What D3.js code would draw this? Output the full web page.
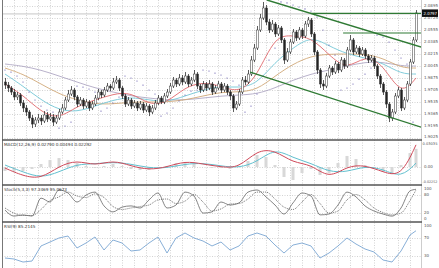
<!DOCTYPE html>
<html>
<head>
<meta charset="utf-8">
<script src="https://cdn.jsdelivr.net/npm/d3@7"></script>
<style>
body{margin:0;background:#fff;}
svg{display:block;font-family:"DejaVu Sans",sans-serif;}
</style>
</head>
<body>
<script>
// price candles, one per bar (open = previous close)
var firstOpen = 1.9819;
var closes = [1.9776,1.9734,1.9677,1.9607,1.9635,1.9522,1.9451,1.9394,1.9309,1.9224,
 1.9281,1.9309,1.9267,1.9352,1.9295,1.9323,1.9252,1.9309,1.9394,1.9451,
 1.9564,1.9649,1.9706,1.9607,1.9507,1.9564,1.9479,1.9536,1.9451,1.9507,
 1.9592,1.9677,1.9635,1.9706,1.9762,1.9734,1.9819,1.9847,1.9734,1.9621,
 1.9507,1.9564,1.9479,1.9522,1.9451,1.9507,1.9422,1.9479,1.9394,1.9451,
 1.9522,1.9592,1.9536,1.9621,1.9677,1.9762,1.9847,1.9791,1.9876,1.9819,
 1.9904,1.9791,1.9847,1.9932,1.9762,1.9706,1.9791,1.9734,1.9791,1.9677,
 1.9734,1.9791,1.9706,1.9762,1.9677,1.9621,1.9451,1.9507,1.9677,1.9847,
 1.9819,1.9932,2.0130,2.0300,2.0555,2.0725,2.0867,2.0668,2.0555,2.0640,
 2.0499,2.0584,2.0414,2.0130,2.0244,2.0385,2.0527,2.0442,2.0555,2.0470,
 2.0640,2.0697,2.0499,2.0244,1.9989,1.9791,1.9762,1.9904,2.0017,1.9960,
 2.0074,1.9989,2.0130,2.0045,2.0272,2.0414,2.0244,2.0300,2.0215,2.0272,
 2.0187,2.0130,2.0159,2.0045,1.9904,1.9791,1.9677,1.9507,1.9309,1.9394,
 1.9621,1.9706,1.9451,1.9564,1.9791,2.0102,2.0414,2.0797];
var highs = [1.9876,1.9819,1.9762,1.9720,1.9677,1.9663,1.9564,1.9493,1.9422,1.9352,
 1.9323,1.9366,1.9352,1.9408,1.9394,1.9380,1.9366,1.9352,1.9437,1.9507,
 1.9607,1.9706,1.9762,1.9734,1.9635,1.9607,1.9592,1.9578,1.9564,1.9550,
 1.9635,1.9720,1.9706,1.9748,1.9805,1.9791,1.9876,1.9904,1.9876,1.9762,
 1.9649,1.9607,1.9592,1.9564,1.9550,1.9550,1.9536,1.9522,1.9507,1.9493,
 1.9564,1.9635,1.9621,1.9663,1.9720,1.9805,1.9890,1.9876,1.9932,1.9918,
 1.9960,1.9932,1.9890,1.9989,1.9960,1.9791,1.9833,1.9819,1.9847,1.9819,
 1.9776,1.9833,1.9819,1.9805,1.9791,1.9706,1.9649,1.9550,1.9720,1.9890,
 1.9904,1.9989,2.0187,2.0357,2.0612,2.0782,2.0952,2.0909,2.0711,2.0697,
 2.0668,2.0626,2.0612,2.0442,2.0300,2.0428,2.0569,2.0555,2.0598,2.0584,
 2.0683,2.0739,2.0725,2.0527,2.0272,2.0017,1.9847,1.9946,2.0060,2.0045,
 2.0116,2.0102,2.0173,2.0159,2.0314,2.0484,2.0442,2.0343,2.0329,2.0314,
 2.0300,2.0215,2.0201,2.0187,2.0074,1.9932,1.9819,1.9706,1.9536,1.9437,
 1.9663,1.9748,1.9734,1.9607,1.9833,2.0145,2.0456,2.0838];
var lows = [1.9720,1.9677,1.9635,1.9564,1.9564,1.9479,1.9394,1.9337,1.9267,1.9167,
 1.9182,1.9238,1.9210,1.9238,1.9252,1.9267,1.9196,1.9224,1.9281,1.9366,
 1.9422,1.9536,1.9621,1.9564,1.9465,1.9479,1.9437,1.9451,1.9408,1.9422,
 1.9479,1.9564,1.9592,1.9607,1.9677,1.9691,1.9706,1.9791,1.9691,1.9578,
 1.9465,1.9479,1.9437,1.9451,1.9408,1.9422,1.9380,1.9394,1.9337,1.9366,
 1.9422,1.9493,1.9507,1.9507,1.9592,1.9649,1.9734,1.9748,1.9762,1.9776,
 1.9791,1.9748,1.9762,1.9819,1.9720,1.9663,1.9677,1.9691,1.9706,1.9635,
 1.9649,1.9706,1.9663,1.9677,1.9635,1.9564,1.9394,1.9422,1.9479,1.9649,
 1.9776,1.9791,1.9904,2.0102,2.0272,2.0527,2.0697,2.0626,2.0513,2.0527,
 2.0456,2.0470,2.0371,2.0074,2.0102,2.0215,2.0357,2.0399,2.0414,2.0428,
 2.0442,2.0598,2.0456,2.0201,1.9932,1.9734,1.9706,1.9734,1.9876,1.9918,
 1.9932,1.9946,1.9960,2.0003,2.0017,2.0244,2.0201,2.0215,2.0173,2.0187,
 2.0145,2.0088,2.0102,2.0003,1.9861,1.9734,1.9635,1.9451,1.9252,1.9267,
 1.9366,1.9592,1.9408,1.9422,1.9536,1.9762,2.0074,2.0385];

// moving averages, sampled every 6 bars
var maIdx = [0,6,12,18,24,30,36,42,48,54,60,66,72,78,84,90,96,102,108,114,120,126,132,137];
var maFast = [1.9791,1.9635,1.9394,1.9295,1.9479,1.9564,1.9649,1.9677,1.9493,1.9522,1.9748,1.9819,1.9762,1.9663,1.9890,2.0484,2.0470,2.0456,2.0201,1.9989,2.0201,2.0074,1.9621,1.9876];
var maMid = [1.9932,1.9762,1.9564,1.9422,1.9394,1.9479,1.9564,1.9607,1.9564,1.9536,1.9621,1.9706,1.9762,1.9734,1.9791,2.0102,2.0300,2.0470,2.0329,2.0215,2.0159,2.0088,1.9932,1.9932];
var maSlow = [2.0017,1.9932,1.9791,1.9649,1.9564,1.9507,1.9507,1.9536,1.9536,1.9536,1.9564,1.9621,1.9677,1.9677,1.9706,1.9904,2.0074,2.0187,2.0215,2.0215,2.0215,2.0159,2.0017,2.0017];
var maLong = [2.0074,2.0045,1.9989,1.9904,1.9819,1.9734,1.9677,1.9621,1.9592,1.9564,1.9564,1.9592,1.9621,1.9635,1.9649,1.9734,1.9847,1.9932,1.9989,2.0045,2.0102,2.0102,2.0045,2.0045];

// parabolic SAR, every second bar
var sar = [1.9989,1.9960,1.9904,1.9819,1.9677,1.9564,1.9479,1.9422,1.9394,1.9167,
 1.9196,1.9252,1.9762,1.9748,1.9720,1.9677,1.9408,1.9451,1.9522,1.9607,
 1.9904,1.9876,1.9833,1.9776,1.9706,1.9649,1.9337,1.9380,1.9451,1.9550,
 1.9635,1.9691,1.9706,1.9989,1.9975,1.9946,1.9918,1.9876,1.9833,1.9776,
 1.9394,1.9479,1.9649,1.9904,2.0130,2.0300,2.0952,2.0938,2.0909,2.0881,
 2.0853,2.0824,2.0739,2.0555,2.0343,2.0201,1.9706,1.9734,1.9791,1.9861,
 1.9932,2.0017,2.0484,2.0456,2.0385,2.0272,2.0159,2.0074,1.9252];

// trend lines drawn on the chart: [bar, price]
var channelTop = [[87.3,2.0980],[138.7,2.0314]];
var channelBottom = [[81.7,1.9960],[138.7,1.9180]];
var levelHigh = [[101.7,2.0790],[138.7,2.0790]];
var levelMid = [[112.7,2.0513],[138.7,2.0513]];
var lastPrice = 2.0797;

// MACD(12,26,9)
var macdLine = [-0.0013,-0.0113,-0.0151,0.0013,0.0088,0.0013,0.0088,0.0013,-0.0038,0.0000,0.0076,0.0038,0.0000,-0.0013,0.0214,0.0214,0.0050,0.0038,-0.0151,0.0013,0.0025,-0.0063,-0.0126,0.0279];
var macdSignal = [0.0025,-0.0063,-0.0139,-0.0063,0.0038,0.0038,0.0063,0.0038,-0.0013,-0.0013,0.0038,0.0050,0.0013,-0.0013,0.0063,0.0239,0.0113,0.0050,-0.0063,-0.0063,0.0013,-0.0025,-0.0139,0.0049];

// oscillators, sampled every 3 bars
var oscIdx = [0,3,6,9,12,15,18,21,24,27,30,33,36,39,42,45,48,51,54,57,60,63,66,69,72,75,78,81,84,87,90,93,96,99,102,105,108,111,114,117,120,123,126,129,132,135,137];
var macdHist = [-0.0050,-0.0063,-0.0050,-0.0025,0.0038,0.0088,0.0113,0.0088,0.0050,0.0013,
 -0.0013,0.0013,0.0038,0.0013,-0.0025,-0.0038,-0.0038,-0.0013,0.0013,0.0050,
 0.0063,0.0038,0,-0.0013,-0.0013,-0.0025,0.0013,0.0076,0.0151,0.0126,
 0.0025,-0.0126,-0.0164,-0.0076,-0.0025,-0.0101,-0.0076,0.0050,0.0139,0.0101,
 0.0025,-0.0025,-0.0063,-0.0076,0.0025,0.0176,0.0229];
var stochK = [28,8,12,8,68,55,95,85,55,78,88,42,22,38,42,35,62,85,35,45,88,75,18,22,55,45,52,88,95,72,45,15,52,85,75,12,15,45,88,72,42,25,15,8,35,92,97.3];
var stochD = [35,18,10,10,30,60,72,88,75,70,82,70,40,30,35,40,45,62,65,50,58,80,55,25,32,48,50,65,88,88,65,38,30,55,80,50,18,25,62,80,62,35,20,12,18,60,95.1];
var rsi = [25.6,23.4,16.8,19.0,51.9,60.6,69.4,73.7,47.5,58.4,71.6,43.1,65.0,58.4,40.9,43.1,58.4,71.6,36.5,69.4,80.3,69.4,62.8,51.9,60.6,43.1,51.9,73.7,80.3,73.7,54.0,36.5,54.0,58.4,51.9,25.6,36.5,51.9,69.4,56.2,45.3,38.7,21.2,16.8,40.9,75.9,85.2];

// axis labels
var priceTicks = [2.0895,2.0725,2.0555,2.0385,2.0215,2.0045,1.9875,1.9705,1.9535,1.9365,1.9195,1.9025];
var macdTicks = [0.03035,0,-0.02252];
var macdTickText = ["0.03035","0.00","-0.02252"];
var stochTicks = [100,80,20,0];
var rsiTicks = [100,70,30];

var W = 439, H = 268, right = 421;

var svg = d3.select("body").append("svg")
  .attr("width", W).attr("height", H);

var x = d3.scaleLinear().domain([0,137]).range([5,416]);
var y = d3.scaleLinear().domain([1.9025,2.0895]).range([138.1,6]);
var yMacd = d3.scaleLinear().domain([-0.02252,0.03035]).range([184.9,142.9]);
var yStoch = d3.scaleLinear().domain([0,100]).range([218.5,188.5]);
var yRsi = d3.scaleLinear().domain([0,100]).range([269.7,224]);

//Clip areas for the four panels
var panels = [["cMain",0,139],["cMacd",141,184],["cStoch",186,221],["cRsi",223,268]];
var defs = svg.append("defs");
panels.forEach(function(p){
  defs.append("clipPath").attr("id",p[0]).append("rect")
    .attr("x",2.5).attr("y",p[1]).attr("width",right-2.5).attr("height",p[2]-p[1]);
});

//Vertical grid
var gridIdx = d3.range(3,140,4).filter(function(i){ return x(i) < right-2; });
svg.append("g").selectAll("line").data(gridIdx).enter().append("line")
  .attr("x1",function(d){return Math.round(x(d))+0.5;})
  .attr("x2",function(d){return Math.round(x(d))+0.5;})
  .attr("y1",0).attr("y2",H)
  .attr("stroke","#c8c8c8").attr("stroke-width",0.8).attr("stroke-dasharray","1,1.5");

//Horizontal grids
function hgrid(vals, scale){
  svg.append("g").selectAll("line").data(vals).enter().append("line")
    .attr("x1",2).attr("x2",right)
    .attr("y1",function(d){return Math.round(scale(d))+0.5;})
    .attr("y2",function(d){return Math.round(scale(d))+0.5;})
    .attr("stroke","#c8c8c8").attr("stroke-width",0.8).attr("stroke-dasharray","1,1.5");
}
hgrid(priceTicks, y);
hgrid([0], yMacd);
hgrid([80,20], yStoch);
hgrid([70,30], yRsi);

//Current price line
svg.append("line").attr("x1",2).attr("x2",right)
  .attr("y1",y(lastPrice)+1).attr("y2",y(lastPrice)+1)
  .attr("stroke","#b8b8b8").attr("stroke-width",0.8);

var main = svg.append("g").attr("clip-path","url(#cMain)");

//Moving averages
function maLine(vals, color){
  var pts = maIdx.map(function(d,i){ return [d, vals[i]]; });
  main.append("path").datum(pts)
    .attr("fill","none").attr("stroke",color).attr("stroke-width",0.9)
    .attr("d", d3.line().x(function(d){return x(d[0]);}).y(function(d){return y(d[1]);}).curve(d3.curveBasis));
}
maLine(maLong, "#b0a8c4");
maLine(maSlow, "#d0a878");
maLine(maMid, "#74c6d6");
maLine(maFast, "#e0686c");

//Candles
var candles = closes.map(function(c,i){
  return {i:i, o: i==0 ? firstOpen : closes[i-1], c:c, h:highs[i], l:lows[i]};
});
var cg = main.append("g");
cg.selectAll(".wick").data(candles).enter().append("line")
  .attr("class","wick")
  .attr("x1",function(d){return Math.round(x(d.i))+0.5;})
  .attr("x2",function(d){return Math.round(x(d.i))+0.5;})
  .attr("y1",function(d){return y(d.h);})
  .attr("y2",function(d){return y(d.l);})
  .attr("stroke","#333").attr("stroke-width",0.8);
cg.selectAll(".body").data(candles).enter().append("rect")
  .attr("class","body")
  .attr("x",function(d){return Math.round(x(d.i))-0.5;})
  .attr("width",2)
  .attr("y",function(d){return y(Math.max(d.o,d.c));})
  .attr("height",function(d){return Math.max(1, Math.abs(y(d.o)-y(d.c)));})
  .attr("fill",function(d){return d.c>=d.o ? "#fff" : "#222";})
  .attr("stroke","#333").attr("stroke-width",0.5);

//Parabolic SAR dots
var sarIdx = d3.range(0,137,2);
main.append("g").selectAll("circle").data(sar).enter().append("circle")
  .attr("cx",function(d,i){return x(sarIdx[i]);})
  .attr("cy",function(d){return y(d);})
  .attr("r",0.6).attr("fill","#5a4fa8");

//Channel and levels
function trend(pts, w){
  main.append("path").datum(pts)
    .attr("fill","none").attr("stroke","#2f7a34").attr("stroke-width",w)
    .attr("d", d3.line().x(function(d){return x(d[0]);}).y(function(d){return y(d[1]);}));
}
trend(channelTop,1.4);
trend(channelBottom,1.4);
trend(levelHigh,1.2);
trend(levelMid,1.2);

//MACD panel
var mg = svg.append("g").attr("clip-path","url(#cMacd)");
mg.selectAll("rect").data(macdHist).enter().append("rect")
  .attr("x",function(d,i){return x(oscIdx[i])-1.5;})
  .attr("width",3)
  .attr("y",function(d){return Math.min(yMacd(d),yMacd(0));})
  .attr("height",function(d){return Math.abs(yMacd(d)-yMacd(0));})
  .attr("fill","#d8d8d8");
function sub(g, idx, vals, scale, color, w, dash, curve){
  var pts = idx.map(function(d,i){ return [d, vals[i]]; });
  g.append("path").datum(pts)
    .attr("fill","none").attr("stroke",color).attr("stroke-width",w)
    .attr("stroke-dasharray",dash)
    .attr("d", d3.line().x(function(d){return x(d[0]);}).y(function(d){return scale(d[1]);}).curve(curve));
}
sub(mg, maIdx, macdSignal, yMacd, "#62c0cf", 1, null, d3.curveBasis);
sub(mg, maIdx, macdLine, yMacd, "#d04a5a", 1, null, d3.curveBasis);

//Stochastic panel
var sg = svg.append("g").attr("clip-path","url(#cStoch)");
sub(sg, oscIdx, stochD, yStoch, "#555", 0.8, "1,1", d3.curveMonotoneX);
sub(sg, oscIdx, stochK, yStoch, "#666", 0.8, null, d3.curveMonotoneX);

//RSI panel
var rg = svg.append("g").attr("clip-path","url(#cRsi)");
sub(rg, oscIdx, rsi, yRsi, "#7aa6d2", 0.9, null, d3.curveLinear);

//Panel borders
svg.append("line").attr("x1",2.5).attr("x2",2.5).attr("y1",0).attr("y2",H)
  .attr("stroke","#777").attr("stroke-width",1);
svg.append("line").attr("x1",right+0.5).attr("x2",right+0.5).attr("y1",0).attr("y2",H)
  .attr("stroke","#c0c0c0").attr("stroke-width",0.8);
[140,185,222].forEach(function(v){
  svg.append("line").attr("x1",2).attr("x2",right+1).attr("y1",v).attr("y2",v)
    .attr("stroke","#555").attr("stroke-width",1.6);
});

//Right axis labels (long ones get a smaller font to fit the margin)
function labels(vals, scale, fmt, lo, hi){
  svg.append("g").selectAll("text").data(vals).enter().append("text")
    .attr("x",424).attr("y",function(d){return Math.max(lo, Math.min(hi, scale(d)));})
    .attr("dy","0.35em")
    .attr("font-size",4).attr("fill","#555")
    .text(fmt)
    .each(function(){
      var len = this.getComputedTextLength();
      if (len > 14) {
        d3.select(this).attr("x",422.5).attr("font-size", 4*15/len);
      }
    });
}
labels(priceTicks, y, function(d){return d.toFixed(4);}, 3, 136.8);
labels(macdTicks, yMacd, function(d,i){return macdTickText[i];}, 144.2, 182.3);
labels(stochTicks, yStoch, function(d){return d;}, 188.8, 219);
labels(rsiTicks, yRsi, function(d){return d;}, 225.2, 266);

//Last price box
svg.append("rect").attr("x",422).attr("y",y(lastPrice)-3.5).attr("width",16).attr("height",7.5).attr("fill","#111");
svg.append("text").attr("x",423.5).attr("y",y(lastPrice)).attr("dy","0.38em")
  .attr("font-size",4.2).attr("fill","#fff")
  .attr("textLength",13.5).attr("lengthAdjust","spacingAndGlyphs")
  .text(lastPrice.toFixed(4));

//Panel titles
var titles = [["MACD(12,26,9) 0.02790 0.00494 0.02292",145],["Stoch(5,3,3) 97.3469 95.0673",190],["RSI(9) 85.2145",227]];
svg.append("g").selectAll("text").data(titles).enter().append("text")
  .attr("x",4).attr("y",function(d){return d[1];})
  .attr("dy","0.35em").attr("font-size",4.2).attr("fill","#333")
  .text(function(d){return d[0];});
</script>
</body>
</html>
